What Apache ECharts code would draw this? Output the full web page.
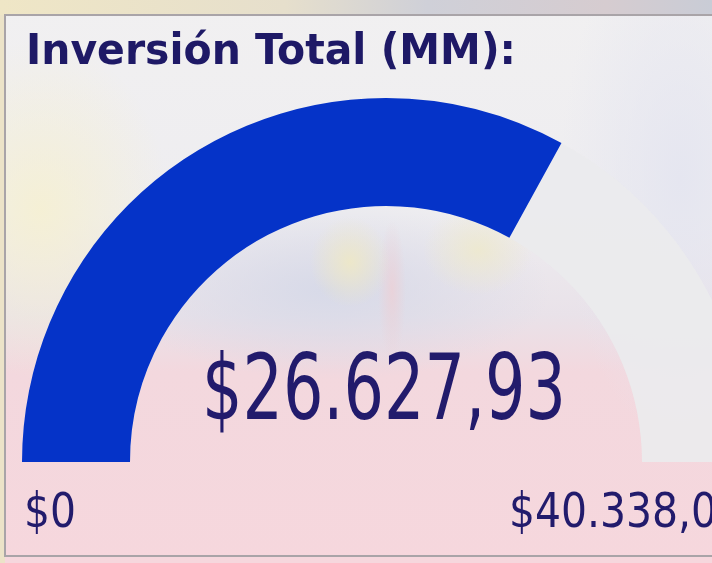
<!DOCTYPE html>
<html>
<head>
<meta charset="utf-8">
<script src="https://cdn.jsdelivr.net/npm/echarts@6/dist/echarts.min.js"></script>
<style>
  html, body { margin: 0; padding: 0; }
  #chart {
    width: 712px;
    height: 563px;
    background:
      radial-gradient(ellipse 130px 170px at 40px 210px, rgba(246,240,208,0.85), rgba(246,240,208,0)),
      radial-gradient(ellipse 40px 45px at 350px 262px, rgba(238,232,198,0.9), rgba(238,232,198,0)),
      radial-gradient(ellipse 55px 45px at 478px 250px, rgba(238,233,204,0.85), rgba(238,233,204,0)),
      radial-gradient(ellipse 14px 70px at 392px 290px, rgba(236,208,214,0.8), rgba(236,208,214,0)),
      radial-gradient(ellipse 220px 90px at 330px 290px, rgba(214,217,232,0.95), rgba(214,217,232,0)),
      radial-gradient(ellipse 120px 260px at 680px 180px, rgba(228,229,240,0.9), rgba(228,229,240,0)),
      linear-gradient(180deg, #f1f0f1 0%, #eeedf0 38%, #e9e2e9 56%, #f3d8de 66%, #f6d7dd 100%);
  }
</style>
</head>
<body>
<div id="chart"></div>
<script>
// datos del indicador
const titleText = ['Inversión Total (MM):'];
const rangeValues = [0, 40338.0];      // mínimo y máximo
const rangeDecimals = [0, 1];
const totalValue = [26627.93];         // valor actual

const numFont = "'DejaVu Sans Condensed', 'DejaVu Sans', sans-serif";
const navy = '#221b6c';

// formato es-CO: $26.627,93
function fmtMoney(v, dec) {
  const parts = v.toFixed(dec).split('.');
  const ent = parts[0].replace(/\B(?=(\d{3})+(?!\d))/g, '.');
  return '$' + ent + (parts[1] ? ',' + parts[1] : '');
}

// la fuente original (DIN / Segoe) es más estrecha: se comprime en x
const measureCtx = document.createElement('canvas').getContext('2d');
function fitScale(text, font, target) {
  measureCtx.font = font;
  return target / measureCtx.measureText(text).width;
}

const titleFont = 'bold 43px ' + numFont;
const valueFont = '90px ' + numFont;
const rangeFont = '48px ' + numFont;

const valueText = fmtMoney(totalValue[0], 2);
const minText = fmtMoney(rangeValues[0], rangeDecimals[0]);
const maxText = fmtMoney(rangeValues[1], rangeDecimals[1]);
const rangeScale = fitScale(minText, rangeFont, 52);

const chart = echarts.init(document.getElementById('chart'));

chart.setOption({
  animation: false,
  graphic: [
    { // franja superior fuera de la tarjeta
      type: 'rect',
      z: -10,
      shape: { x: 0, y: 0, width: 712, height: 15 },
      style: {
        fill: new echarts.graphic.LinearGradient(0, 0, 1, 0, [
          { offset: 0, color: '#efe6c6' },
          { offset: 0.4, color: '#e6dfcc' },
          { offset: 0.6, color: '#cfd0d8' },
          { offset: 0.85, color: '#d6ccd0' },
          { offset: 1, color: '#c9ccd6' },
        ]),
      },
    },
    {
      type: 'rect',
      z: -10,
      shape: { x: 0, y: 15, width: 5, height: 548 },
      style: { fill: '#ece3c8' },
    },
    { // borde de la tarjeta
      type: 'rect',
      shape: { x: 5, y: 15, width: 720, height: 541 },
      style: { fill: 'none', stroke: '#a9a4a8', lineWidth: 2 },
    },
    { // título
      type: 'text',
      x: 26,
      y: 53,
      scaleX: fitScale(titleText[0], titleFont, 490),
      style: {
        text: titleText[0],
        font: titleFont,
        fill: '#1e1966',
        align: 'left',
        verticalAlign: 'middle',
      },
    },
    { // valor central
      type: 'text',
      x: 384,
      y: 396,
      z: 10,
      scaleX: fitScale(valueText, valueFont, 364),
      style: {
        text: valueText,
        font: valueFont,
        fill: navy,
        align: 'center',
        verticalAlign: 'middle',
      },
    },
    {
      type: 'text',
      x: 24,
      y: 515,
      scaleX: rangeScale,
      style: {
        text: minText,
        font: rangeFont,
        fill: navy,
        align: 'left',
        verticalAlign: 'middle',
      },
    },
    {
      type: 'text',
      x: 509,
      y: 515,
      scaleX: rangeScale,
      style: {
        text: maxText,
        font: rangeFont,
        fill: navy,
        align: 'left',
        verticalAlign: 'middle',
      },
    },
  ],
  series: [
    {
      type: 'gauge',
      startAngle: 180,
      endAngle: 0,
      min: rangeValues[0],
      max: rangeValues[1],
      center: [386, 462],
      radius: 364,
      axisLine: {
        lineStyle: {
          width: 108,
          color: [[1, 'rgba(235,235,237,0.94)']],
        },
      },
      progress: {
        show: true,
        width: 108,
        roundCap: false,
        itemStyle: { color: '#0533c8' },
      },
      pointer: { show: false },
      anchor: { show: false },
      axisTick: { show: false },
      splitLine: { show: false },
      axisLabel: { show: false },
      title: { show: false },
      detail: { show: false },
      data: [{ value: totalValue[0] }],
    },
  ],
});
</script>
</body>
</html>
